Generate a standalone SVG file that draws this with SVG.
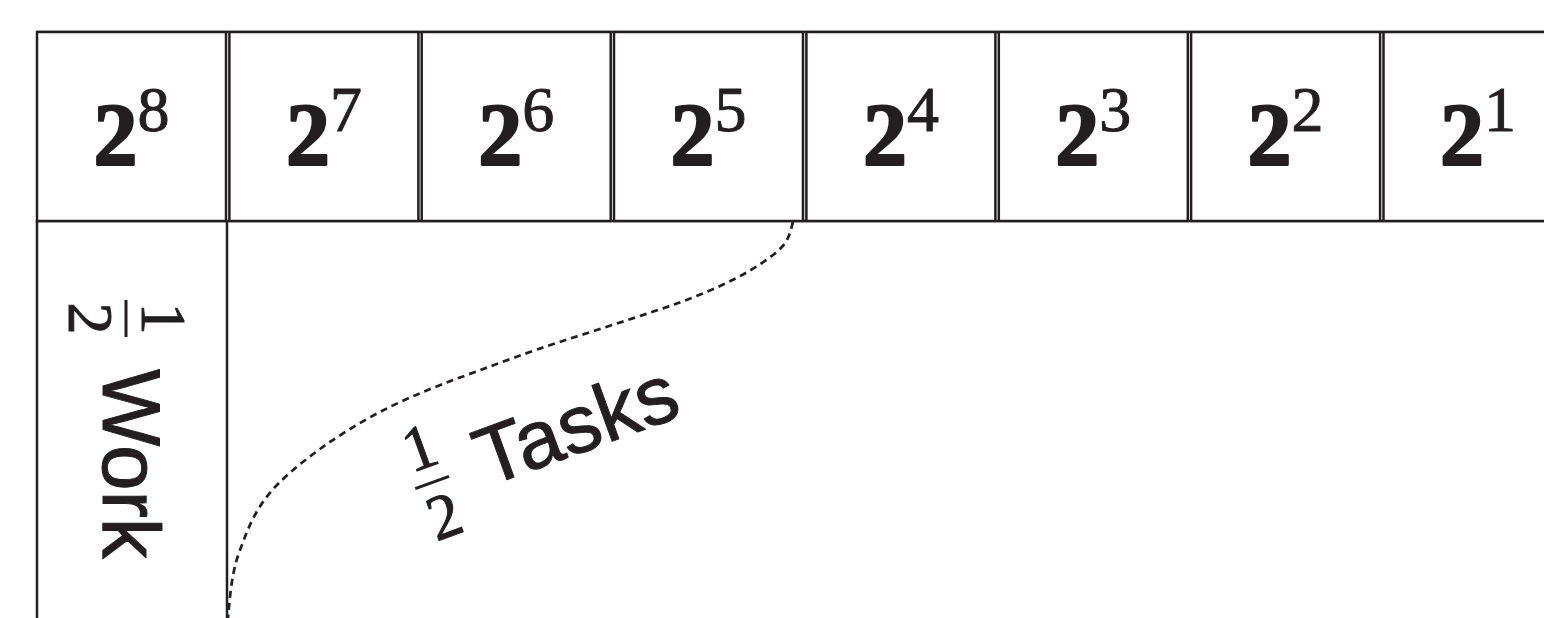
<svg xmlns="http://www.w3.org/2000/svg" width="1544" height="618" viewBox="0 0 1544 618">
<style>
.cell{fill:#fff;stroke:#231f20;stroke-width:2.5}
.grid{stroke:#231f20;stroke-width:2.5;fill:none}
.pow{font-family:"Liberation Serif",serif;font-weight:bold;font-size:88px;fill:#231f20;stroke:#231f20;stroke-width:2.2;stroke-linejoin:round;text-anchor:middle}
.sup{font-weight:normal;font-size:64px;stroke-width:1}
.lbl{font-family:"Liberation Sans",sans-serif;font-size:82px;fill:#231f20;stroke:#231f20;stroke-width:1;stroke-linejoin:round}
.frac{font-family:"Liberation Serif",serif;font-size:64px;fill:#231f20;stroke:#231f20;stroke-width:1;text-anchor:middle}
.bar{stroke:#231f20;stroke-width:3}
.dash{fill:none;stroke:#231f20;stroke-width:2.7;stroke-dasharray:7 5}
</style>
<rect width="1544" height="618" fill="#fff"/>
<g id="grid">
<line class="grid" x1="37" y1="221" x2="37" y2="618"/>
<line class="grid" x1="227" y1="221" x2="227" y2="618"/>
<line class="grid" x1="37" y1="32" x2="1544" y2="32"/>
<line class="grid" x1="37" y1="221" x2="1544" y2="221"/>
</g>
<g id="cell-2-8"><rect class="cell" x="37" y="32" width="189" height="189"/><text class="pow" x="131.5" y="164">2<tspan class="sup" dy="-33">8</tspan></text></g>
<g id="cell-2-7"><rect class="cell" x="229.4" y="32" width="189" height="189"/><text class="pow" x="323.9" y="164">2<tspan class="sup" dy="-33">7</tspan></text></g>
<g id="cell-2-6"><rect class="cell" x="421.7" y="32" width="189" height="189"/><text class="pow" x="516.2" y="164">2<tspan class="sup" dy="-33">6</tspan></text></g>
<g id="cell-2-5"><rect class="cell" x="614" y="32" width="189" height="189"/><text class="pow" x="708.5" y="164">2<tspan class="sup" dy="-33">5</tspan></text></g>
<g id="cell-2-4"><rect class="cell" x="806.4" y="32" width="189" height="189"/><text class="pow" x="900.9" y="164">2<tspan class="sup" dy="-33">4</tspan></text></g>
<g id="cell-2-3"><rect class="cell" x="998.8" y="32" width="189" height="189"/><text class="pow" x="1093.3" y="164">2<tspan class="sup" dy="-33">3</tspan></text></g>
<g id="cell-2-2"><rect class="cell" x="1191.1" y="32" width="189" height="189"/><text class="pow" x="1285.6" y="164">2<tspan class="sup" dy="-33">2</tspan></text></g>
<g id="cell-2-1"><rect class="cell" x="1383.5" y="32" width="189" height="189"/><text class="pow" x="1478" y="164">2<tspan class="sup" dy="-33">1</tspan></text></g>
<g id="label-work" transform="translate(103,0) rotate(90)">
<text class="frac" x="318.5" y="-39">1</text>
<line class="bar" x1="300" y1="-23" x2="337" y2="-23"/>
<text class="frac" x="318.5" y="34">2</text>
<text class="lbl" x="369" y="0">Work</text>
</g>
<g id="label-tasks" transform="translate(487,487) rotate(-20)">
<text class="frac" x="-50" y="-39">1</text>
<line class="bar" x1="-68" y1="-23" x2="-32" y2="-23"/>
<text class="frac" x="-50" y="34">2</text>
<text class="lbl" x="0" y="0">Tasks</text>
</g>
<g id="connectors">
<path class="dash" d="M793,222 C789.7,233 789.5,242.5 773,255 C756.5,267.5 736.8,280 694,297 C651.2,314 568.7,337.7 516,357 C463.3,376.3 417.5,392 378,413 C338.5,434 302,460.2 279,483 C256,505.8 248.5,527.5 240,550 C231.5,572.5 230,596.3 228,618"/>
</g>
</svg>
